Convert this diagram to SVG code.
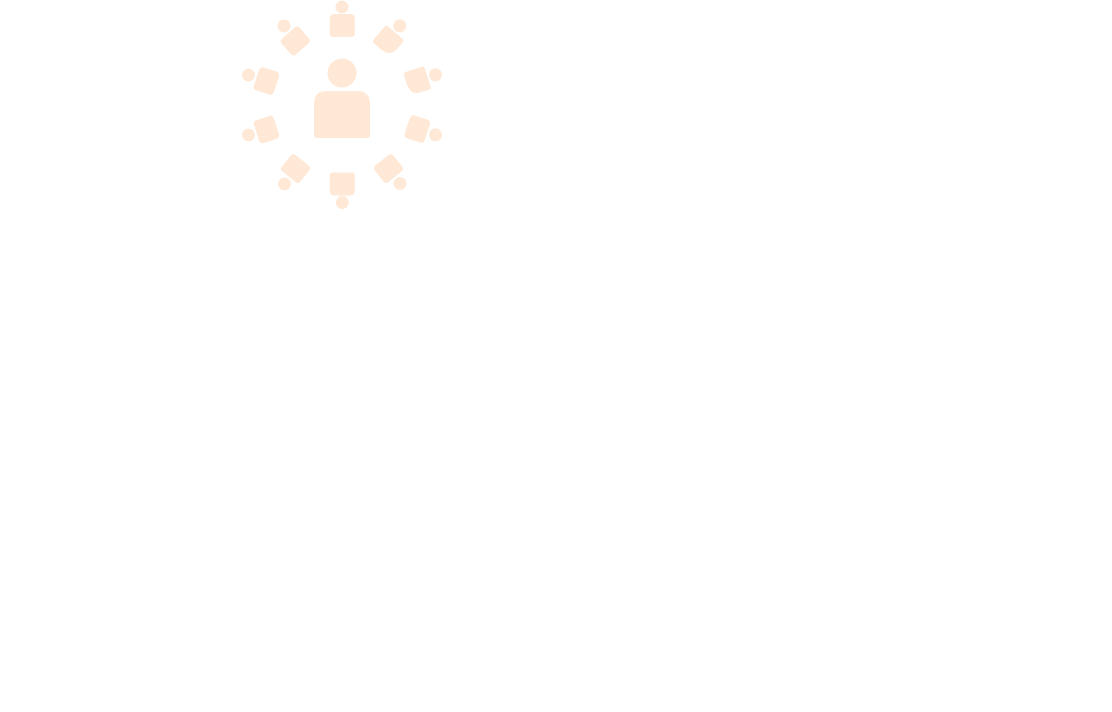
<svg xmlns="http://www.w3.org/2000/svg" width="1112" height="712" viewBox="0 0 1112 712">
<style>
.p{fill:#FFE8D6;filter:url(#soft)}
</style>
<defs>
<filter id="soft" x="-10%" y="-10%" width="120%" height="120%"><feGaussianBlur stdDeviation="0.45"/></filter>
<path id="b" d="M-8-11.500H8Q12.500-11.500 12.500-7V8.500Q12.500 11.500 9.500 11.500H-9.500Q-12.500 11.500-12.500 8.500V-7Q-12.500-11.500-8-11.500Z"/>
<path id="d" d="M-8.500-10.500H8.500Q12-10.500 12-7V6.500Q12 10.500 8 10.500H-8Q-12 10.500-12 6.500V-7Q-12-10.500-8.500-10.500Z"/>
<path id="c" d="M-9.500-11.500H9.500Q12-11.500 12-9V-1Q12 10.500 0 10.500H-9.500Q-12 10.500-12 8V-9Q-12-11.500-9.500-11.500Z"/>
</defs>
<rect width="1112" height="712" fill="#FFFFFF"/>
<g id="center" class="p"><circle cx="342" cy="73" r="14.500"/><path d="M327 91H357Q370 91 370 104V135Q370 138 367 138H317Q314 138 314 135V104Q314 91 327 91Z"/></g>
<g id="p1" class="p"><circle cx="342" cy="7" r="6.500"/><use href="#b" transform="translate(342.300 25.500)"/></g>
<g id="p2" class="p"><circle cx="399.800" cy="25.800" r="6.500"/><use href="#c" transform="translate(387.800 41.300) rotate(41)"/></g>
<g id="p3" class="p"><circle cx="435.500" cy="74.800" r="6.500"/><use href="#c" transform="translate(416.800 81) rotate(72)"/></g>
<g id="p4" class="p"><circle cx="435.500" cy="134.800" r="6.500"/><use href="#d" transform="translate(417.300 129) rotate(108)"/></g>
<g id="p5" class="p"><circle cx="400" cy="183.500" r="6.500"/><use href="#d" transform="translate(388.500 168.500) rotate(141)"/></g>
<g id="p6" class="p"><circle cx="342.300" cy="202.500" r="6.500"/><use href="#b" transform="translate(342.300 184) rotate(180)"/></g>
<g id="p7" class="p"><circle cx="284.500" cy="184" r="6.500"/><use href="#d" transform="translate(295.500 168.500) rotate(219)"/></g>
<g id="p8" class="p"><circle cx="248.500" cy="135" r="6.500"/><use href="#d" transform="translate(266.500 129.500) rotate(252)"/></g>
<g id="p9" class="p"><circle cx="248.500" cy="75" r="6.500"/><use href="#d" transform="translate(266.500 81) rotate(-72)"/></g>
<g id="p10" class="p"><circle cx="284" cy="26" r="6.500"/><use href="#d" transform="translate(295.300 41) rotate(-41)"/></g>
</svg>
